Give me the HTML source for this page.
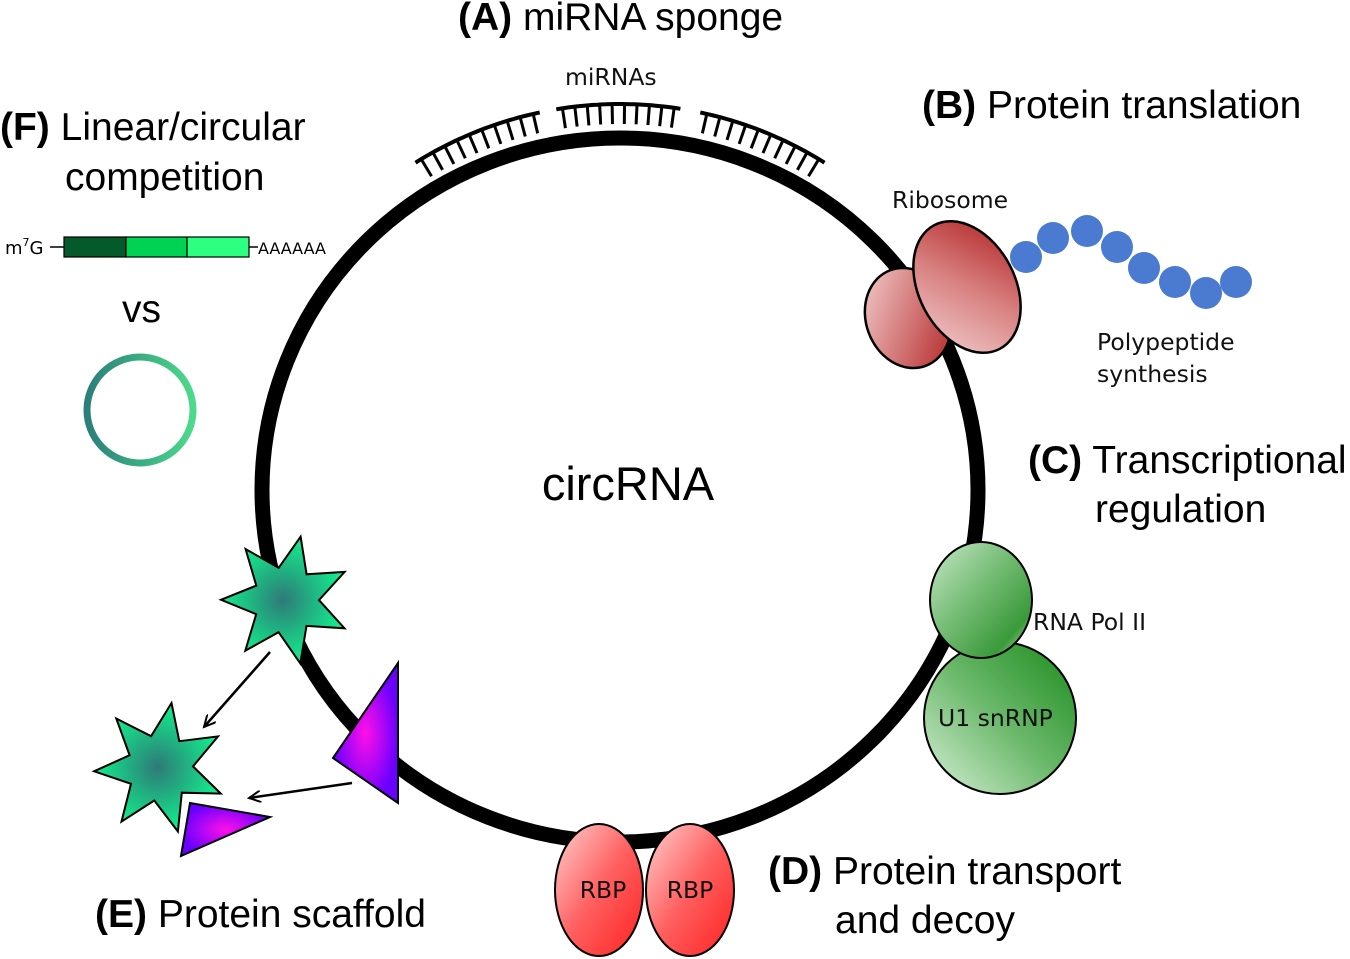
<!DOCTYPE html>
<html><head><style>
body{margin:0;background:#fff}
svg{display:block}
.h{font-family:"Liberation Sans",sans-serif;font-size:39px;fill:#000}
.s{font-family:"DejaVu Sans",sans-serif;font-size:23.5px;fill:#111}
</style></head><body>
<svg width="1350" height="959" viewBox="0 0 1350 959" xmlns="http://www.w3.org/2000/svg">
<defs>
<linearGradient id="ring" x1="0" x2="1"><stop offset="0" stop-color="#2a7f7a"/><stop offset="1" stop-color="#4cda8a"/></linearGradient>
<radialGradient id="star"><stop offset="0" stop-color="#2e7a78"/><stop offset="1" stop-color="#12ee8c"/></radialGradient>
<radialGradient id="tri"><stop offset="0" stop-color="#ff10e8"/><stop offset="1" stop-color="#6a00ff"/></radialGradient>
<linearGradient id="rib" x1="0" y1="0" x2="1" y2="1"><stop offset="0" stop-color="#f4d2d2"/><stop offset="0.5" stop-color="#d47a7a"/><stop offset="1" stop-color="#b02020"/></linearGradient>
<linearGradient id="rib2" x1="1" y1="0" x2="0" y2="1"><stop offset="0" stop-color="#b02020"/><stop offset="0.5" stop-color="#d88080"/><stop offset="1" stop-color="#f2d0d0"/></linearGradient>
<linearGradient id="grn" x1="0" y1="0" x2="1" y2="1"><stop offset="0" stop-color="#c8e8c8"/><stop offset="0.4" stop-color="#7cc07c"/><stop offset="0.8" stop-color="#3a9a3a"/><stop offset="1" stop-color="#d0ecd0"/></linearGradient>
<linearGradient id="grn2" x1="1" y1="0" x2="0" y2="1"><stop offset="0" stop-color="#1a8a1a"/><stop offset="0.5" stop-color="#6ab86a"/><stop offset="1" stop-color="#d8f0d8"/></linearGradient>
<linearGradient id="rbp" x1="0" y1="0" x2="1" y2="1"><stop offset="0" stop-color="#ffd0d0"/><stop offset="0.5" stop-color="#ff6060"/><stop offset="1" stop-color="#ff2020"/></linearGradient>
<marker id="ar" markerWidth="14" markerHeight="12" refX="12" refY="6" orient="auto" markerUnits="userSpaceOnUse"><path d="M0,0 L12,6 L0,12" fill="none" stroke="#000" stroke-width="2"/></marker>
</defs>

<ellipse cx="620" cy="490" rx="358" ry="352" fill="none" stroke="#000" stroke-width="15"/>
<g id="mirna" stroke="#000" stroke-width="3" fill="none"></g>

<text class="h" x="458" y="30"><tspan font-weight="bold">(A)</tspan> miRNA sponge</text>
<text class="s" x="565" y="85">miRNAs</text>
<text class="h" x="922" y="118"><tspan font-weight="bold">(B)</tspan> Protein translation</text>
<text class="h" x="1028" y="473"><tspan font-weight="bold">(C)</tspan> Transcriptional</text>
<text class="h" x="1095" y="522">regulation</text>
<text class="h" x="768" y="884"><tspan font-weight="bold">(D)</tspan> Protein transport</text>
<text class="h" x="835" y="933">and decoy</text>
<text class="h" x="95" y="927"><tspan font-weight="bold">(E)</tspan> Protein scaffold</text>
<text class="h" x="0" y="140"><tspan font-weight="bold">(F)</tspan> Linear/circular</text>
<text class="h" x="65" y="190">competition</text>
<text class="h" x="122" y="322">vs</text>
<text x="628" y="500" text-anchor="middle" font-family="Liberation Sans,sans-serif" font-size="47">circRNA</text>

<text x="5" y="254" font-family="DejaVu Sans,sans-serif" font-size="18">m<tspan font-size="11" dy="-8">7</tspan><tspan dy="8">G</tspan></text>
<line x1="50" y1="247" x2="64" y2="247" stroke="#000" stroke-width="1.5"/>
<rect x="64" y="237" width="62" height="20" fill="#045a2a" stroke="#000" stroke-width="1.2"/>
<rect x="126" y="237" width="61" height="20" fill="#00d254" stroke="#000" stroke-width="1.2"/>
<rect x="187" y="237" width="62" height="20" fill="#2dff80" stroke="#000" stroke-width="1.2"/>
<line x1="249" y1="247" x2="258" y2="247" stroke="#000" stroke-width="1.5"/>
<text x="258" y="254" font-family="DejaVu Sans,sans-serif" font-size="16">AAAAAA</text>
<circle cx="140" cy="410" r="53" fill="none" stroke="url(#ring)" stroke-width="7"/>

<ellipse cx="908" cy="318" rx="42" ry="51" transform="rotate(-20 908 318)" fill="url(#rib)" stroke="#000" stroke-width="2.5"/>
<ellipse cx="967" cy="287" rx="48" ry="70" transform="rotate(-28 967 287)" fill="url(#rib2)" stroke="#000" stroke-width="2.5"/>
<g fill="#4a7bd0">
<circle cx="1026" cy="257" r="16"/><circle cx="1053" cy="238" r="16"/><circle cx="1087" cy="231" r="16"/><circle cx="1117" cy="247" r="16"/><circle cx="1144" cy="268" r="16"/><circle cx="1175" cy="282" r="16"/><circle cx="1206" cy="293" r="16"/><circle cx="1236" cy="282" r="16"/>
</g>
<text class="s" x="892" y="208">Ribosome</text>
<text class="s" x="1097" y="350">Polypeptide</text>
<text class="s" x="1097" y="382">synthesis</text>

<ellipse cx="1000" cy="718" rx="76" ry="76" fill="url(#grn2)" stroke="#000" stroke-width="2"/>
<ellipse cx="981" cy="600" rx="51" ry="58" fill="url(#grn)" stroke="#000" stroke-width="2"/>
<text class="s" x="1033" y="630">RNA Pol II</text>
<text class="s" x="938" y="726">U1 snRNP</text>

<ellipse cx="599" cy="890" rx="44" ry="66" fill="url(#rbp)" stroke="#000" stroke-width="2"/>
<ellipse cx="690" cy="890" rx="44" ry="66" fill="url(#rbp)" stroke="#000" stroke-width="2"/>
<text class="s" x="603" y="898" text-anchor="middle">RBP</text>
<text class="s" x="690" y="898" text-anchor="middle">RBP</text>

<g id="stars"></g>
<polygon points="398,663 398,803 333,758" fill="url(#tri)" stroke="#000" stroke-width="2"/>
<polygon points="190,803 270,817 181,856" fill="url(#tri)" stroke="#000" stroke-width="2"/>
<line x1="270" y1="652" x2="204" y2="727" stroke="#000" stroke-width="2.5" marker-end="url(#ar)"/>
<line x1="352" y1="783" x2="249" y2="798" stroke="#000" stroke-width="2.5" marker-end="url(#ar)"/>
</svg>
<script>
var NS="http://www.w3.org/2000/svg";
var g=document.getElementById("mirna");
var cx=620,cy=490,R=386;
function arc(a0,a1,n){
 var r=R, p=[];
 for(var i=0;i<=30;i++){var a=(a0+(a1-a0)*i/30)*Math.PI/180;p.push((cx+r*Math.cos(a)).toFixed(1)+","+(cy+r*Math.sin(a)).toFixed(1));}
 var pl=document.createElementNS(NS,"polyline");pl.setAttribute("points",p.join(" "));pl.setAttribute("stroke-width","4");g.appendChild(pl);
 for(var k=0;k<n;k++){var a=(a0+(a1-a0)*(k+0.5)/n)*Math.PI/180;
  var l=document.createElementNS(NS,"line");
  l.setAttribute("x1",cx+r*Math.cos(a));l.setAttribute("y1",cy+r*Math.sin(a));
  l.setAttribute("x2",cx+(r-20)*Math.cos(a));l.setAttribute("y2",cy+(r-20)*Math.sin(a));g.appendChild(l);}
}
arc(-122,-102,10);arc(-99.5,-81,10);arc(-78,-58,10);
var sg=document.getElementById("stars");
function star(x,y,R,r,rot){var p=[];for(var i=0;i<14;i++){var a=(rot+i*180/7)*Math.PI/180;var rr=i%2?r:R;p.push((x+rr*Math.cos(a)).toFixed(1)+","+(y+rr*Math.sin(a)).toFixed(1));}
 var pg=document.createElementNS(NS,"polygon");pg.setAttribute("points",p.join(" "));pg.setAttribute("fill","url(#star)");pg.setAttribute("stroke","#000");pg.setAttribute("stroke-width","2");sg.appendChild(pg);}
star(286,600,65,33,-77);star(160,768,66,33,-80);
</script>
</body></html>
